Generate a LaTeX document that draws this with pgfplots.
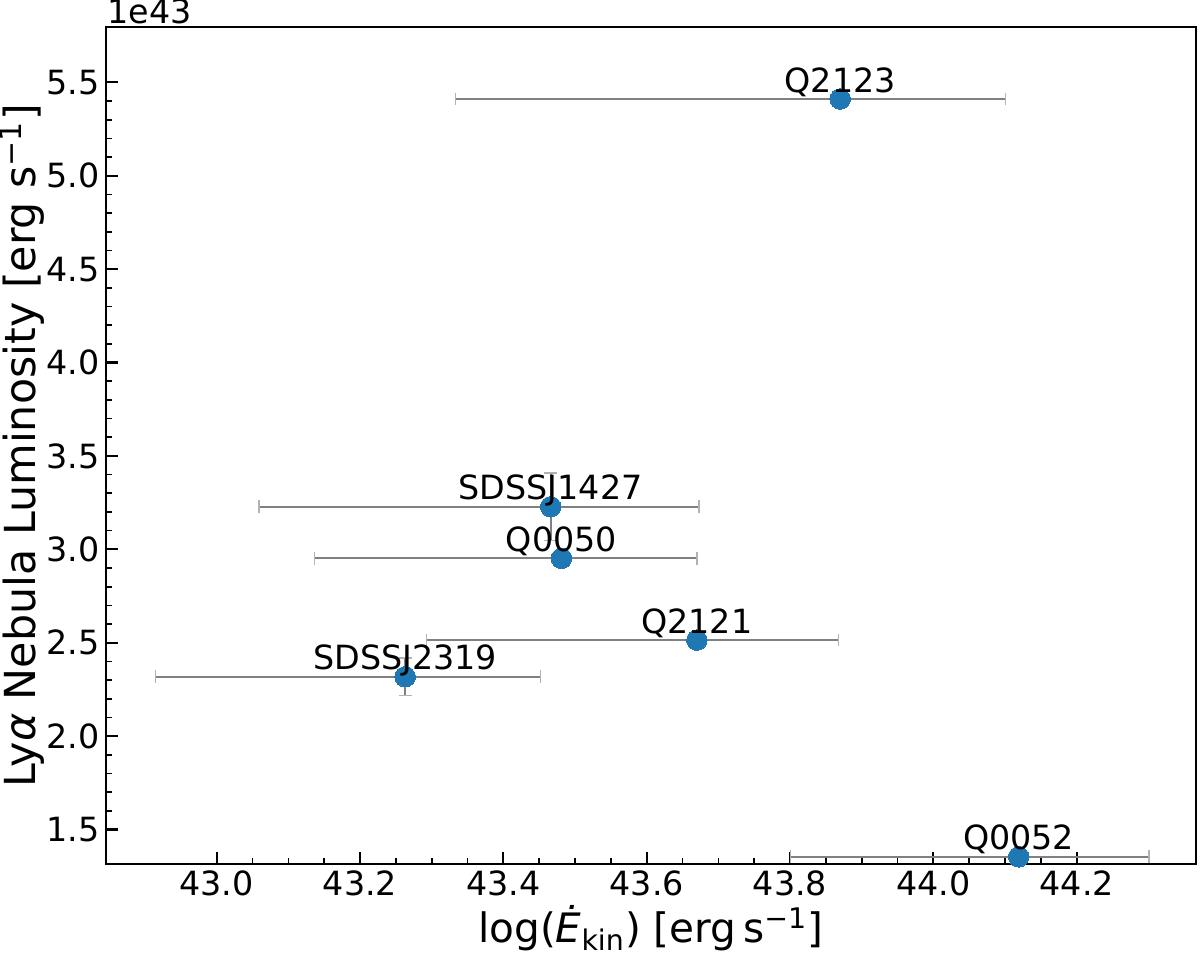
\documentclass[border=0pt]{standalone}
\usepackage{fontspec}
\setmainfont{DejaVu Sans}
\usepackage{pgfplots}
\pgfplotsset{compat=1.18}
\usepackage{pgfplotstable}
\definecolor{mplblue}{HTML}{1F77B4}

% points
\pgfplotstableread{
x      y     name
43.870 5.411 Q2123
43.466 3.228 SDSSJ1427
43.481 2.952 Q0050
43.670 2.514 Q2121
43.263 2.318 SDSSJ2319
44.119 1.354 Q0052
}\datatable
% horizontal error bars: lower x, upper x, y
\pgfplotstableread{
lo     hi     y
43.333 44.101 5.411
43.059 43.673 3.228
43.136 43.670 2.952
43.293 43.868 2.514
42.915 43.452 2.318
43.801 44.301 1.354
}\xerrtable
% vertical error bars: x, lower y, upper y
\pgfplotstableread{
x      lo    hi
43.466 3.048 3.408
43.263 2.218 2.418
}\yerrtable

\begin{document}
\begin{tikzpicture}
\begin{axis}[
  scale only axis, width=392.5pt, height=301.3pt,
  xmin=42.8451, xmax=44.3664, ymin=1.3154, ymax=5.796,
  xtick={43,43.2,43.4,43.6,43.8,44,44.2},
  ytick={1.5,2,2.5,3,3.5,4,4.5,5,5.5},
  minor x tick num=3, minor y tick num=4,
  tick align=inside, tick pos=left,
  major tick length=4.3pt, minor tick length=2.2pt,
  major tick style={line width=0.8pt, black},
  minor tick style={line width=0.6pt, black},
  axis line style={line width=0.8pt},
  scaled ticks=false,
  /pgf/number format/assume math mode=true,
  xticklabel={\pgfmathprintnumber[fixed, fixed zerofill, precision=1]{\tick}},
  yticklabel={\pgfmathprintnumber[fixed, fixed zerofill, precision=1]{\tick}},
  tick label style={font=\fontsize{12}{14}\selectfont},
  xticklabel style={inner sep=0pt, yshift=-2.4pt},
  yticklabel style={inner sep=0pt, xshift=-2.05pt},
  xlabel={log(\textit{Ė}\textsubscript{kin}) [erg\,s\textsuperscript{−1}]},
  ylabel={Ly\textit{α} Nebula Luminosity [erg s\textsuperscript{−1}]},
  xlabel style={font=\fontsize{14.6}{17}\selectfont, at={(axis description cs:0.5,-0.0939)}, anchor=base, inner sep=0pt},
  ylabel style={font=\fontsize{15.4}{18}\selectfont, at={(axis description cs:-0.064,0.5)}, anchor=base, inner sep=0pt},
]
% x error bars (lines)
\pgfplotsinvokeforeach{0,...,5}{
  \pgfplotstablegetelem{#1}{lo}\of\xerrtable \let\xlo\pgfplotsretval
  \pgfplotstablegetelem{#1}{hi}\of\xerrtable \let\xhi\pgfplotsretval
  \pgfplotstablegetelem{#1}{y}\of\xerrtable \let\yy\pgfplotsretval
  \edef\temp{\noexpand\addplot[gray, line width=0.75pt, mark=|, mark size=2.3pt,
     mark options={draw=gray!60, line width=0.45pt}, forget plot]
     coordinates {(\xlo,\yy) (\xhi,\yy)};}
  \temp
}
% y error bars
\pgfplotsinvokeforeach{0,1}{
  \pgfplotstablegetelem{#1}{x}\of\yerrtable \let\xx\pgfplotsretval
  \pgfplotstablegetelem{#1}{lo}\of\yerrtable \let\ylo\pgfplotsretval
  \pgfplotstablegetelem{#1}{hi}\of\yerrtable \let\yhi\pgfplotsretval
  \edef\temp{\noexpand\addplot[gray, line width=0.75pt, mark=-, mark size=2.3pt,
     mark options={draw=gray!60, line width=0.45pt}, forget plot]
     coordinates {(\xx,\ylo) (\xx,\yhi)};}
  \temp
}
\addplot[color=mplblue, only marks, mark=*, mark size=3.7pt,
  mark options={fill=mplblue, draw=mplblue, line width=0pt},
  nodes near coords, point meta=explicit symbolic,
  nodes near coords style={anchor=base, inner sep=0pt, yshift=2.5pt,
    font=\fontsize{12}{14}\selectfont, text=black}]
  table[x=x, y=y, meta=name]{\datatable};
\end{axis}
\node[anchor=base west, inner sep=0pt, font=\fontsize{12}{14}\selectfont,
  xshift=0.5pt, yshift=1.1pt] at (current axis.north west) {1e43};
\pgfresetboundingbox
\path[use as bounding box] (-38.05pt,-32.4pt) rectangle (393.95pt,311.04pt);
\end{tikzpicture}
\end{document}
